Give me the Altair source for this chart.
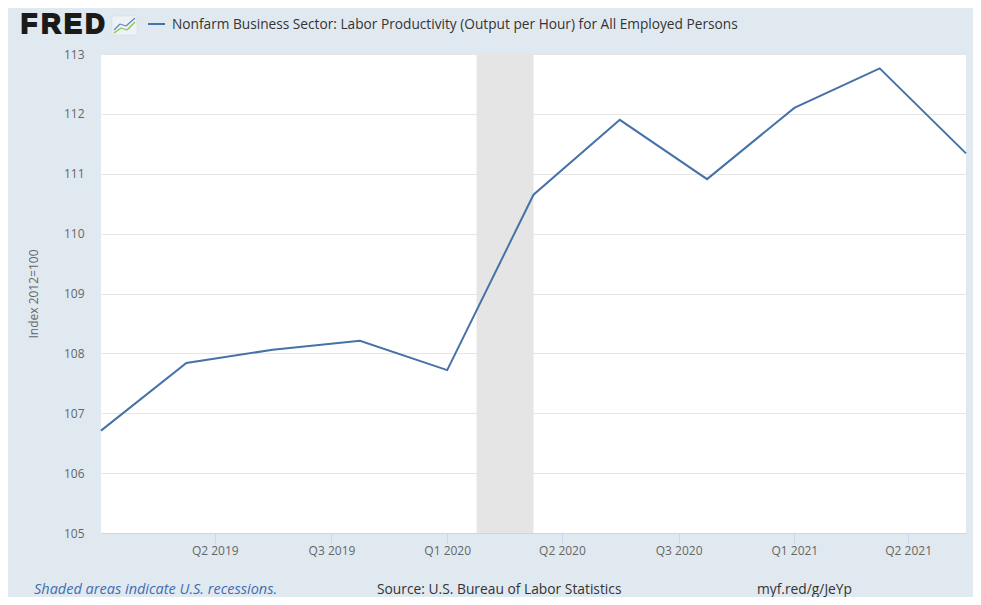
import altair as alt
import pandas as pd

# ---- data ----
quarters = ["2019-01-01", "2019-04-01", "2019-07-01", "2019-10-01", "2020-01-01",
            "2020-04-01", "2020-07-01", "2020-10-01", "2021-01-01", "2021-04-01",
            "2021-07-01"]
productivity = [106.71, 107.84, 108.06, 108.21, 107.72,
                110.65, 111.90, 110.91, 112.10, 112.76, 111.34]
rec_start = ["2020-02-01"]
rec_end = ["2020-04-01"]
y_ticks = [105, 106, 107, 108, 109, 110, 111, 112, 113]
x_tick_months = [(2019, 5), (2019, 9), (2020, 1), (2020, 5), (2020, 9), (2021, 1), (2021, 5)]

series_title = "Nonfarm Business Sector: Labor Productivity (Output per Hour) for All Employed Persons"
y_title = "Index 2012=100"

df = pd.DataFrame({"date": quarters, "value": productivity})
rec = pd.DataFrame({"start": rec_start, "end": rec_end})

BG = "#e1e9f0"
LINE = "#4572a7"
FONT = "Open Sans"

xscale = alt.Scale(type="utc",
                   domain=[alt.DateTime(year=2019, month=1, date=1, utc=True),
                           alt.DateTime(year=2021, month=7, date=1, utc=True)])
yscale = alt.Scale(domain=[105, 113], nice=False, zero=False)

xaxis = alt.Axis(
    values=[alt.DateTime(year=y, month=m, date=1, utc=True) for y, m in x_tick_months],
    labelExpr="'Q' + (floor(utcmonth(datum.value)/3)+1) + ' ' + utcyear(datum.value)",
    title=None, grid=False, domainColor="#ccd6eb", tickColor="#ccd6eb",
    tickSize=10, labelPadding=2, labelFont=FONT, labelFontSize=12,
    labelColor="#666666", labelFlush=False, labelOverlap=False,
)
yaxis = alt.Axis(
    values=y_ticks, title=None, grid=True, gridColor="#e6e6e6", domain=False,
    ticks=False, tickSize=0, labelPadding=17, labelFont=FONT, labelFontSize=12,
    labelColor="#666666",
)

recession = alt.Chart(rec).mark_rect(color="#e5e5e5").encode(
    x=alt.X("start:T", scale=xscale, axis=xaxis),
    x2="end:T",
)

line = alt.Chart(df).mark_line(color=LINE, strokeWidth=2).encode(
    x=alt.X("date:T", scale=xscale, axis=xaxis),
    y=alt.Y("value:Q", scale=yscale, axis=yaxis),
)

# Offsets: plot origin at page (101, 54)
def txt(text, px, py, **kw):
    d = pd.DataFrame({"t": [text]})
    return alt.Chart(d).mark_text(**kw).encode(
        x=alt.value(px - 101), y=alt.value(py - 54), text="t:N")

def seg(x1, y1, x2, y2, color, w=1.5):
    d = pd.DataFrame({"k": [0]})
    return alt.Chart(d).mark_rule(color=color, strokeWidth=w).encode(
        x=alt.value(x1 - 101), y=alt.value(y1 - 54),
        x2=alt.value(x2 - 101), y2=alt.value(y2 - 54))

def box(x1, y1, x2, y2, fill, stroke):
    d = pd.DataFrame({"k": [0]})
    return alt.Chart(d).mark_rect(fill=fill, stroke=stroke, strokeWidth=0.5,
                                  cornerRadius=2).encode(
        x=alt.value(x1 - 101), y=alt.value(y1 - 54),
        x2=alt.value(x2 - 101), y2=alt.value(y2 - 54))

logo_letters = ["F", "R", "E", "D"]
logo_x = [29, 51, 73, 95]
logo = [txt(ch, lx, 33, font="Liberation Sans", fontSize=27, fontWeight="bold",
            color="#1a1a1a", stroke="#1a1a1a", strokeWidth=1.8,
            align="center", baseline="alphabetic")
        for ch, lx in zip(logo_letters, logo_x)]
icon_parts = [
    box(112, 16, 137, 35, "#eef2f6", "#d0d8e0"),
    seg(114, 30, 120, 24, "#5b8ac6", 1.3), seg(120, 24, 126, 26, "#5b8ac6", 1.3),
    seg(126, 26, 135, 18, "#5b8ac6", 1.3),
    seg(114, 33, 121, 28, "#8cc152", 1.3), seg(121, 28, 127, 30, "#8cc152", 1.3),
    seg(127, 30, 135, 22, "#8cc152", 1.3),
]
legend_dash = seg(148, 24, 165, 24, LINE, 2)
legend_text = txt(series_title, 172, 29, font=FONT, fontSize=13.7, color="#333333",
                  align="left", baseline="alphabetic")
ytitle = txt(y_title, 34, 294, font=FONT, fontSize=12, color="#666666",
             angle=270, align="center", baseline="middle")
foot1 = txt("Shaded areas indicate U.S. recessions.", 34, 594, font=FONT, fontSize=14.5,
            fontStyle="italic", color="#3e6eb0", align="left", baseline="alphabetic")
foot2 = txt("Source: U.S. Bureau of Labor Statistics", 377, 594, font=FONT, fontSize=13.8,
            color="#333333", align="left", baseline="alphabetic")
foot3 = txt("myf.red/g/JeYp", 757, 594, font=FONT, fontSize=13.8,
            color="#333333", align="left", baseline="alphabetic")

chart = alt.layer(
    recession, line, *logo, *icon_parts, legend_dash, legend_text, ytitle,
    foot1, foot2, foot3,
).properties(
    width=865, height=479,
    padding={"left": 93, "top": 46, "right": 7, "bottom": 64},
    autosize="none",
    background=BG,
).configure_view(fill="white", stroke=None)

chart.save("out.html", embed_options={"renderer": "svg", "actions": False})
